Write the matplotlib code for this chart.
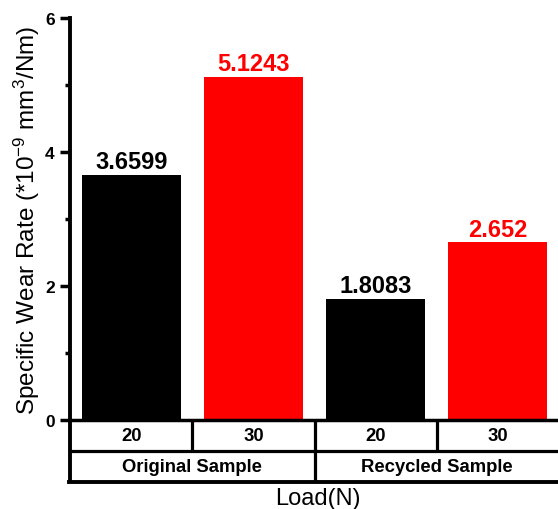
import matplotlib
matplotlib.use("Agg")
import matplotlib.pyplot as plt
import matplotlib.transforms as mtransforms
from matplotlib.ticker import MultipleLocator

plt.rcParams['font.family'] = ['Liberation Sans', 'DejaVu Sans']
plt.rcParams['mathtext.fontset'] = 'custom'
plt.rcParams['mathtext.rm'] = 'Liberation Sans'
plt.rcParams['mathtext.it'] = 'Liberation Sans:italic'
plt.rcParams['mathtext.bf'] = 'Liberation Sans:bold'

loads = ["20", "30", "20", "30"]
groups = ["Original Sample", "Recycled Sample"]
values = [3.6599, 5.1243, 1.8083, 2.652]
labels = ["3.6599", "5.1243", "1.8083", "2.652"]
colors = ["#000000", "#ff0000", "#000000", "#ff0000"]

fig = plt.figure(figsize=(5.58, 5.10), dpi=100)
ax = fig.add_axes([70/558, 89/510, 489/558, 402/510])

x = list(range(len(values)))
ax.bar(x, values, width=0.81, color=colors, edgecolor='none')
for xi, v, lab, c in zip(x, values, labels, colors):
    ax.annotate(lab, (xi, v), xytext=(0, 1.0), textcoords='offset points',
                ha='center', va='bottom', fontsize=17, fontweight='bold', color=c)

ax.set_xlim(-0.5, len(values) - 0.5)
ax.set_ylim(0, 6)
ax.yaxis.set_major_locator(MultipleLocator(2))
ax.yaxis.set_minor_locator(MultipleLocator(1))
ax.tick_params(axis='y', which='major', direction='out', length=7, width=2.5,
               labelsize=12.5, pad=4)
ax.tick_params(axis='y', which='minor', direction='out', length=3.5, width=2.5)
for t in ax.get_yticklabels():
    t.set_fontweight('bold')
ax.set_xticks([])
for s in ['top', 'right']:
    ax.spines[s].set_visible(False)
ax.spines['left'].set_linewidth(2.8)
ax.spines['bottom'].set_linewidth(2.5)

ax.set_ylabel("Specific Wear Rate (*10$^{-9}$ mm$^{3}$/Nm)", fontsize=17.5)
ax.yaxis.set_label_coords(-28 / 489, 0.5)

# two-level category table below axis
trans = mtransforms.blended_transform_factory(ax.transData, ax.transAxes)
r1 = -30.5 / 402
r2 = -62 / 402
lw = 2.3
x0, x1 = -0.5, len(values) - 0.5
ax.plot([x0, x0], [0, r2], transform=trans, color='black', lw=2.8, clip_on=False,
        solid_capstyle='butt')
ax.plot([x0, x1], [r1, r1], transform=trans, color='black', lw=lw, clip_on=False)
ax.plot([x0 - 0.01, x1], [r2, r2], transform=trans, color='black', lw=2.8, clip_on=False)
for i in range(1, len(values)):
    ax.plot([i - 0.5, i - 0.5], [0, r1], transform=trans, color='black', lw=lw,
            clip_on=False, solid_capstyle='butt')
n_per = len(values) // len(groups)
for g in range(1, len(groups)):
    xb = g * n_per - 0.5
    ax.plot([xb, xb], [r1, r2], transform=trans, color='black', lw=lw,
            clip_on=False, solid_capstyle='butt')
for xi, lab in zip(x, loads):
    ax.text(xi, r1 / 2, lab, transform=trans, ha='center', va='center',
            fontsize=13.3, fontweight='bold')
for g, lab in enumerate(groups):
    xc = g * n_per + (n_per - 1) / 2
    ax.text(xc, (r1 + r2) / 2, lab, transform=trans, ha='center', va='center',
            fontsize=13.3, fontweight='bold')

ax.text(1.53, -78 / 402, "Load(N)", transform=trans, ha='center', va='center',
        fontsize=17)

fig.savefig("out.png", dpi=100)
